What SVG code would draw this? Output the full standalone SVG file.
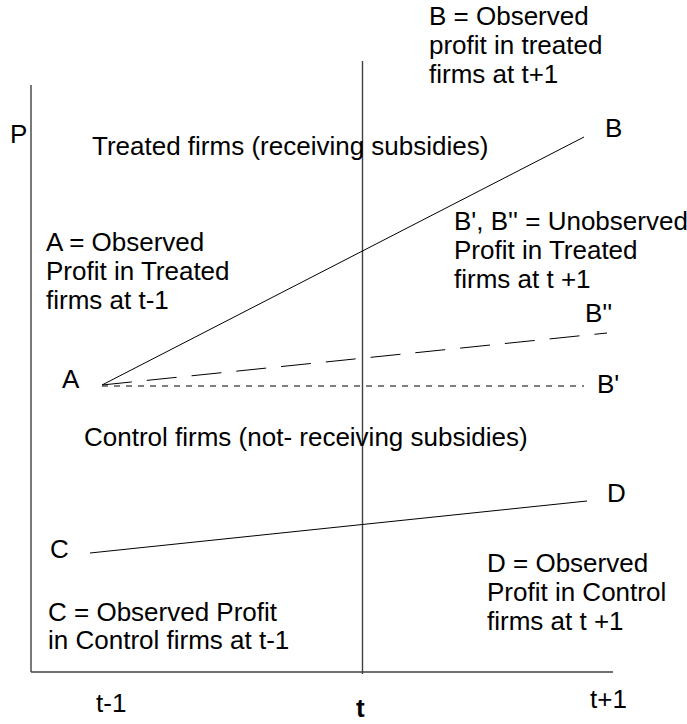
<svg xmlns="http://www.w3.org/2000/svg" width="687" height="724" viewBox="0 0 687 724">
  <style>
    text { font-family: "Liberation Sans", Arial, sans-serif; font-size: 26px; fill: #000; }
    .axis { stroke: #404040; stroke-width: 1.4; fill: none; }
    .line { stroke: #000; stroke-width: 1; fill: none; }
    .short { stroke-dasharray: 6 6; }
    .long { stroke-dasharray: 30 15; }
    .bold { font-weight: bold; }
  </style>
  <rect width="687" height="724" fill="#fff"/>
  <g id="axes">
    <line class="axis" x1="31" y1="85" x2="31" y2="672"/>
    <line class="axis" x1="31" y1="672" x2="613" y2="672"/>
    <line class="axis" x1="362.5" y1="61" x2="362.5" y2="674"/>
  </g>
  <g id="connectors">
    <line class="line" x1="102" y1="385" x2="584" y2="137"/>
    <line class="line long" x1="102" y1="385" x2="607" y2="333"/>
    <line class="line short" x1="102" y1="386" x2="584" y2="386"/>
    <line class="line" x1="90" y1="553" x2="587" y2="501"/>
  </g>
  <g id="axis-labels">
    <text x="10" y="143">P</text>
    <text x="96" y="712">t-1</text>
    <text class="bold" x="356" y="717">t</text>
    <text x="590" y="708">t+1</text>
  </g>
  <g id="region-labels">
    <text x="92" y="155">Treated firms (receiving subsidies)</text>
    <text x="84" y="446">Control firms (not- receiving subsidies)</text>
  </g>
  <g id="node-A"><text x="62" y="388">A</text></g>
  <g id="node-B"><text x="605" y="137">B</text></g>
  <g id="node-B2"><text x="585" y="322">B''</text></g>
  <g id="node-B1"><text x="597" y="393">B'</text></g>
  <g id="node-C"><text x="50" y="558">C</text></g>
  <g id="node-D"><text x="607" y="502">D</text></g>
  <g id="note-B">
    <text x="429" y="25">B = Observed</text>
    <text x="429" y="54">profit in treated</text>
    <text x="429" y="83">firms at t+1</text>
  </g>
  <g id="note-A">
    <text x="46" y="251">A = Observed</text>
    <text x="46" y="280">Profit in Treated</text>
    <text x="46" y="309">firms at t-1</text>
  </g>
  <g id="note-B-unobserved">
    <text x="454" y="230">B', B'' = Unobserved</text>
    <text x="454" y="259">Profit in Treated</text>
    <text x="454" y="288">firms at t +1</text>
  </g>
  <g id="note-C">
    <text x="48" y="621">C = Observed Profit</text>
    <text x="48" y="649">in Control firms at t-1</text>
  </g>
  <g id="note-D">
    <text x="487" y="572">D = Observed</text>
    <text x="487" y="601">Profit in Control</text>
    <text x="487" y="630">firms at t +1</text>
  </g>
</svg>
